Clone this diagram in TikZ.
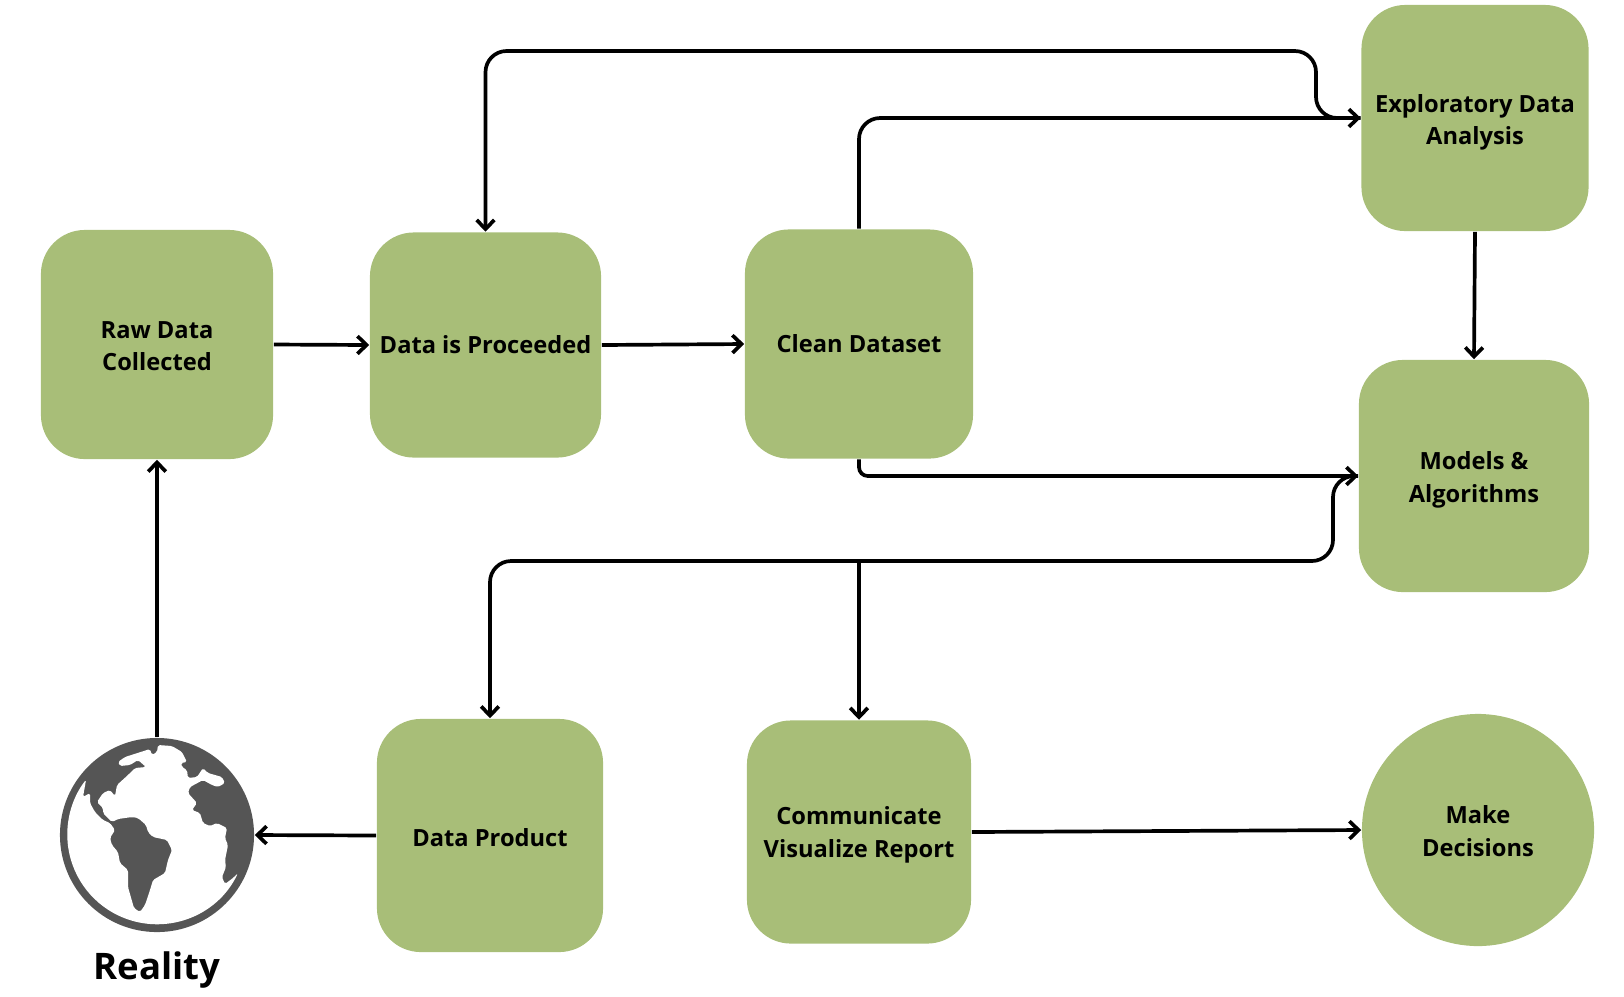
\documentclass[tikz,border=0pt]{standalone}
\usepackage{fontspec}
\setmainfont{Open Sans}
\usetikzlibrary{arrows.meta, positioning, calc}

\definecolor{stagegreen}{HTML}{A8BE78}
\definecolor{globegrey}{HTML}{555555}

\newcommand{\dropline}[1]{\rule{0pt}{#1}}

\tikzset{
	stagebox/.style={fill=stagegreen, rounded corners=12.5pt, inner sep=0pt, align=center, text=black,
		font=\fontsize{6.73}{9.2}\selectfont\bfseries},
	link/.style={draw=black, line width=1.05pt, -{Straight Barb[length=2.6pt,width=5pt]}},
}

\begin{document}
\begin{tikzpicture}[x=0.01cm, y=-0.01cm]
			\useasboundingbox (0,0) rectangle (1624,996);
			% Stages
			\node[stagebox, minimum width=2.32cm, minimum height=2.29cm] (raw) at (157,344.5) {\dropline{5.7pt}Raw Data\\Collected};
			\node[stagebox, minimum width=2.31cm, minimum height=2.25cm] (proceeded) at (485.5,345) {Data is Proceeded};
			\node[stagebox, minimum width=2.28cm, minimum height=2.29cm] (clean) at (859,344) {Clean Dataset};
			\node[stagebox, minimum width=2.27cm, minimum height=2.26cm] (eda) at (1475,118) {\dropline{7.4pt}Exploratory Data\\Analysis};
			\node[stagebox, minimum width=2.30cm, minimum height=2.32cm] (models) at (1474,476) {\dropline{7.2pt}Models \&\\Algorithms};
			\node[stagebox, minimum width=2.26cm, minimum height=2.33cm] (product) at (490,835.5) {\dropline{6.2pt}Data Product};
			\node[stagebox, minimum width=2.24cm, minimum height=2.23cm] (report) at (859,832) {\dropline{6.8pt}Communicate\\Visualize Report};
			\node[stagebox, circle, minimum size=2.32cm] (decisions) at (1478,830) {\dropline{5.7pt}Make\\Decisions};
			% Globe
			\node[circle, fill=globegrey, minimum size=1.94cm, inner sep=0pt] (globe) at (157,835) {};
			\fill[white, rounded corners=0.5pt] (238,873) arc[start angle=25.4, end angle=217.8, radius=89.7]
				-- (83,797) -- (90,793) -- (90,803) -- (95,812) -- (103,820) -- (110,823) -- (115,830) -- (110,838)
				-- (112,845) -- (118,852) -- (120,863) -- (128,870) -- (128,887) -- (134,908) -- (140,912) -- (145,905)
				-- (150,890) -- (153,880) -- (165,873) -- (168,860) -- (172,850) -- (167,840) -- (153,837) -- (148,832)
				-- (146,825) -- (138,818) -- (132,817) -- (118,819) -- (112,822) -- (103,813) -- (103,808) -- (97,802)
				-- (103,793) -- (110,790) -- (115,796) -- (117,785) -- (128,775) -- (135,768) -- (146,767) -- (138,760)
				-- (130,765) -- (120,766) -- (118,762) -- (125,757) -- (150,749) -- (152,755) -- (157,752) -- (158,745)
				-- (172,746) -- (182,752) -- (187,762) -- (181,763) -- (182,767) -- (187,770) -- (188,778) -- (197,777)
				-- (203,768) -- (208,773) -- (222,777) -- (225,783) -- (218,787) -- (212,785) -- (203,780) -- (190,787)
				-- (188,793) -- (197,803) -- (192,810) -- (200,813) -- (203,823) -- (210,826) -- (217,823) -- (227,828)
				-- (225,838) -- (228,845) -- (225,860) -- (226,867) -- (222,877) -- (225,884) -- (233,878) -- cycle;
			\node[font=\fontsize{10.4}{12}\selectfont\bfseries, text=black, inner sep=0pt] (reality) at (157,970) {Reality};
			% Bends
			\coordinate (loopbend) at (1316,51);
			\coordinate (busbend) at (1333,561);
			\coordinate (fork) at (report.north |- busbend);
			% Links
			\draw[link] (globe.north) -- (raw.south);
			\draw[link] (raw.east) -- (proceeded.west);
			\draw[link] (proceeded.east) -- (clean.west);
			\draw[link, rounded corners=6pt] (clean.north) |- (eda.west);
			\draw[link, rounded corners=6pt] (eda.west) -| (loopbend) -| (proceeded.north);
			\draw[link] (eda.south) -- (models.north);
			\draw[link, rounded corners=2.5pt] (clean.south) |- (models.west);
			\draw[link, rounded corners=6pt] (models.west) -| (busbend) -| (product.north);
			\draw[link] (fork) -- (report.north);
			\draw[link] (report.east) -- (decisions.west);
			\draw[link] (product.west) -- (globe.east);
		\end{tikzpicture}
\end{document}
